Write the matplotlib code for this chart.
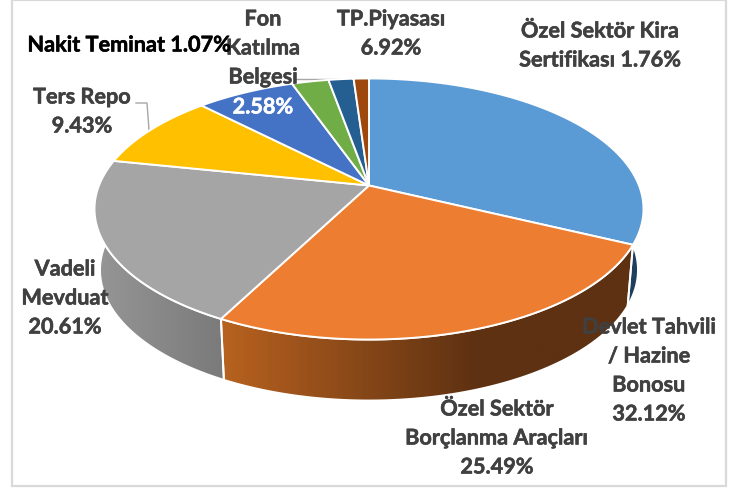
import numpy as np
import matplotlib
matplotlib.use('Agg')
import matplotlib.pyplot as plt
import matplotlib.patheffects as pe
from matplotlib.colors import LinearSegmentedColormap
from matplotlib.patches import Polygon, Rectangle

plt.rcParams['font.family'] = ['Lato', 'DejaVu Sans']

# clockwise from 12 o'clock
values = [32.12, 25.49, 20.61, 9.43, 6.92, 2.58, 1.76, 1.07]
colors = ['#5B9BD5', '#ED7D31', '#A5A5A5', '#FFC000',
          '#4472C4', '#70AD47', '#255E91', '#9E480E']

# only the first three slices show their side wall
side_stops = [[(0, '#1f3f5e'), (1, '#1f3f5e')],
              [(0, '#b8621f'), (0.62, '#5e3112'), (1, '#5e3112')],
              [(0, '#969696'), (1, '#7a7a7a')]]

# (lines, x centre, y of first line, colour)
labels = [(['Devlet Tahvili', '/ Hazine', 'Bonosu', '32.12%'], 649, 327, '#404040'),
          (['Özel Sektör', 'Borçlanma Araçları', '25.49%'], 497, 409, '#404040'),
          (['Vadeli', 'Mevduat', '20.61%'], 65, 269, '#404040'),
          (['Ters Repo', '9.43%'], 82, 97, '#404040'),
          (['TP.Piyasası', '6.92%'], 391, 19, '#404040'),
          (['Fon', 'Katılma', 'Belgesi'], 263, 19, '#404040'),
          (['2.58%'], 263, 107, 'white'),
          (['Özel Sektör Kira', 'Sertifikası 1.76%'], 600, 31, '#404040'),
          (['Nakit Teminat 1.07%'], 129, 45, 'black')]

# perspective of the tilted disc, in pixels
cx, cy = 369, 185.5
R, a, k = 270, 126.3, 0.18
depth = 61
line_gap = 29


def project(theta):
    x, y = np.sin(theta), np.cos(theta)
    d = 1 + k * y
    return cx + R * x / d, cy - a * y / d


fig = plt.figure(figsize=(7.31, 4.88), dpi=100)
ax = fig.add_axes([0, 0, 1, 1])
ax.axis('off')

ax.add_patch(Rectangle((12, 0), 714, 486, fc='white', ec='#d9d9d9', lw=1.6, zorder=0))

edges = 2 * np.pi * np.cumsum([0] + values) / sum(values)

# side walls
for i, stops in enumerate(side_stops):
    th = np.linspace(edges[i], edges[i + 1], 150)
    # nothing of the wall shows above the widest point of the disc
    th = th[(th > np.pi / 2) & (th < 3 * np.pi / 2 + 0.2)]
    ux, uy = project(th)
    lx = cx + (ux - cx) * 0.98
    ly = uy + depth
    pts = np.vstack([np.column_stack([ux, uy]), np.column_stack([lx, ly])[::-1]])
    poly = Polygon(pts, closed=True, fc='none', ec='white', lw=1.4, zorder=2)
    ax.add_patch(poly)
    cmap = LinearSegmentedColormap.from_list('side%d' % i, stops)
    im = ax.imshow(np.linspace(0, 1, 256).reshape(1, -1), cmap=cmap, aspect='auto',
                   extent=(pts[:, 0].min(), pts[:, 0].max(), pts[:, 1].max(), pts[:, 1].min()),
                   zorder=1.5)
    im.set_clip_path(poly)

# top face
for i, c in enumerate(colors):
    th = np.linspace(edges[i], edges[i + 1], 150)
    ux, uy = project(th)
    pts = np.vstack([[cx, cy], np.column_stack([ux, uy])])
    ax.add_patch(Polygon(pts, closed=True, fc=c, ec='white', lw=1.4, zorder=3))

# leader lines
ax.plot([136, 147, 149], [103, 103, 130], color='#a6a6a6', lw=1, zorder=2.5)
ax.plot([295, 361], [79, 79], color='#a6a6a6', lw=1, zorder=2.5)

for lines, x, y, c in labels:
    for n, s in enumerate(lines):
        t = ax.text(x, y + n * line_gap, s, ha='center', va='center', color=c,
                    fontsize=15.6, fontweight='bold', zorder=5)
        # the original text is heavier than Lato Bold
        t.set_path_effects([pe.withStroke(linewidth=0.4, foreground=c)])

ax.set_xlim(0, 731)
ax.set_ylim(488, 0)
fig.savefig('out.png', dpi=100)
